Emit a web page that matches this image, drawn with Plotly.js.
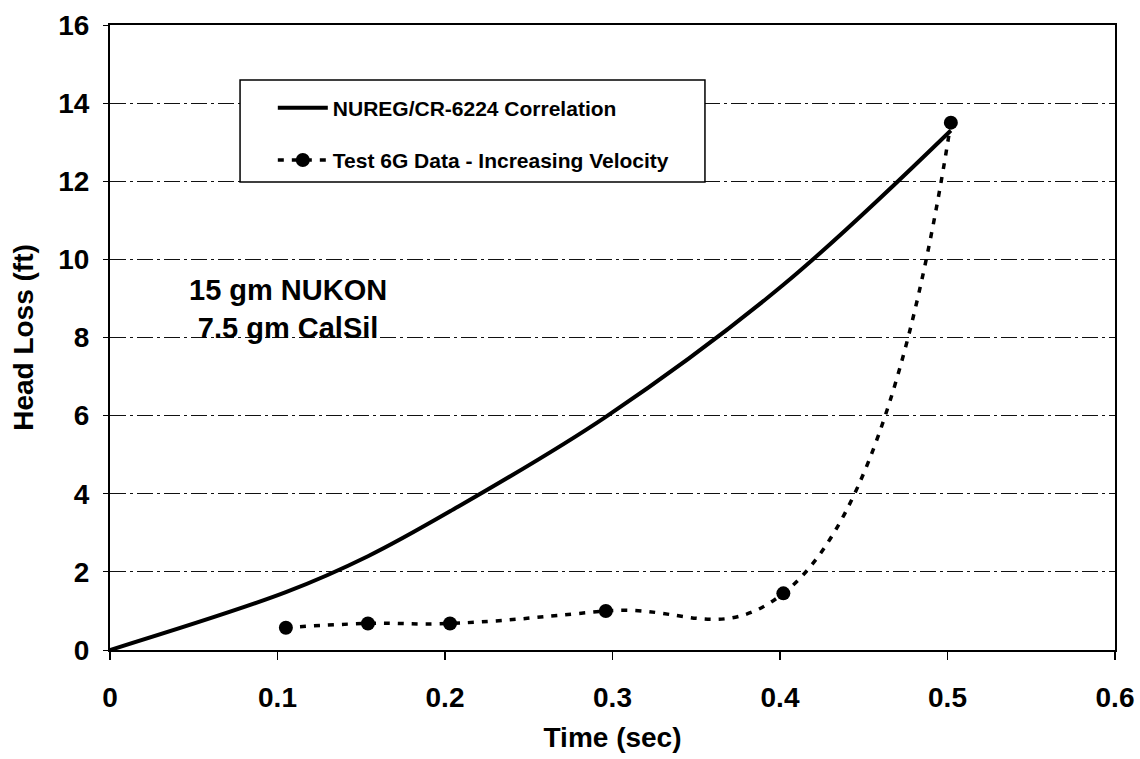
<!DOCTYPE html>
<html>
<head>
<meta charset="utf-8">
<script src="https://cdn.plot.ly/plotly-3.0.1.min.js"></script>
<style>html,body{margin:0;padding:0;background:#fff;} #chart{width:1140px;height:759px;}</style>
</head>
<body>
<div id="chart"></div>
<script>
// Data
const corrTime = [0, 0.105, 0.154, 0.203, 0.296, 0.402, 0.502];
const corrHeadLoss = [0, 1.48, 2.4, 3.55, 5.97, 9.35, 13.3];
const testTime = [0.105, 0.154, 0.203, 0.296, 0.402, 0.502];
const testHeadLoss = [0.57, 0.68, 0.68, 1.0, 1.45, 13.5];
const seriesNames = ['NUREG/CR-6224 Correlation', 'Test 6G Data - Increasing Velocity'];
const xTicks = [0, 0.1, 0.2, 0.3, 0.4, 0.5, 0.6];
const yTicks = [0, 2, 4, 6, 8, 10, 12, 14, 16];
const noteText = '15 gm NUKON<br>7.5 gm CalSil';

const FONT = 'Liberation Sans, Arial, sans-serif';

const traces = [
  {
    x: corrTime, y: corrHeadLoss, name: seriesNames[0], legendgroup: 'a',
    mode: 'lines', line: {color: '#000', width: 4, shape: 'spline', smoothing: 1}
  },
  {
    x: testTime, y: testHeadLoss, name: seriesNames[1], legendgroup: 'b',
    mode: 'lines+markers', line: {color: '#000', width: 3.5, dash: '6px,8px', shape: 'spline', smoothing: 1.3},
    marker: {color: '#000', size: 14, symbol: 'circle'}
  }
];

const layout = {
  width: 1140, height: 759,
  margin: {l: 110, r: 25, t: 25, b: 109},
  paper_bgcolor: '#fff', plot_bgcolor: '#fff',
  font: {family: FONT, color: '#000'},
  showlegend: true,
  legend: {
    x: 0.162, xanchor: 'left', y: 0.90, yanchor: 'top',
    bgcolor: 'rgba(0,0,0,0)', borderwidth: 0,
    font: {family: FONT, size: 21, color: '#000', weight: 'bold'},
    traceorder: 'grouped', tracegroupgap: 22, itemwidth: 50
  },
  xaxis: {
    range: [0, 0.6], tickvals: xTicks, ticktext: xTicks.map(String),
    showgrid: false, zeroline: false,
    showline: true, linecolor: '#000', linewidth: 2, mirror: true,
    ticks: 'outside', ticklen: 8, tickwidth: 1.5, tickcolor: '#000',
    ticklabelstandoff: 13,
    tickfont: {family: FONT, size: 28, color: '#000', weight: 'bold'},
    title: {text: 'Time (sec)', font: {family: FONT, size: 28, color: '#000', weight: 'bold'}, standoff: 16}
  },
  yaxis: {
    range: [0, 16], tickvals: yTicks, ticktext: yTicks.map(String),
    showgrid: true, gridcolor: '#111', gridwidth: 1, griddash: '16px,4px,3px,4px',
    zeroline: false,
    showline: true, linecolor: '#000', linewidth: 2, mirror: true,
    ticks: 'outside', ticklen: 5, tickwidth: 1, tickcolor: '#000',
    ticklabelstandoff: 8,
    tickfont: {family: FONT, size: 28, color: '#000', weight: 'bold'},
    title: {text: 'Head Loss (ft)', font: {family: FONT, size: 28, color: '#000', weight: 'bold'}, standoff: 16}
  },
  shapes: [
    {type: 'rect', xref: 'paper', yref: 'paper', x0: 0.1294, x1: 0.592, y0: 0.749, y1: 0.912,
     line: {color: '#000', width: 1.5}, fillcolor: '#fff', layer: 'above'}
  ],
  annotations: [
    {x: 0.106, y: 8.72, xref: 'x', yref: 'y', text: noteText, showarrow: false,
     font: {family: FONT, size: 29, color: '#000', weight: 'bold'}, align: 'center'}
  ]
};

Plotly.newPlot('chart', traces, layout, {displayModeBar: false, staticPlot: true});
</script>
</body>
</html>
